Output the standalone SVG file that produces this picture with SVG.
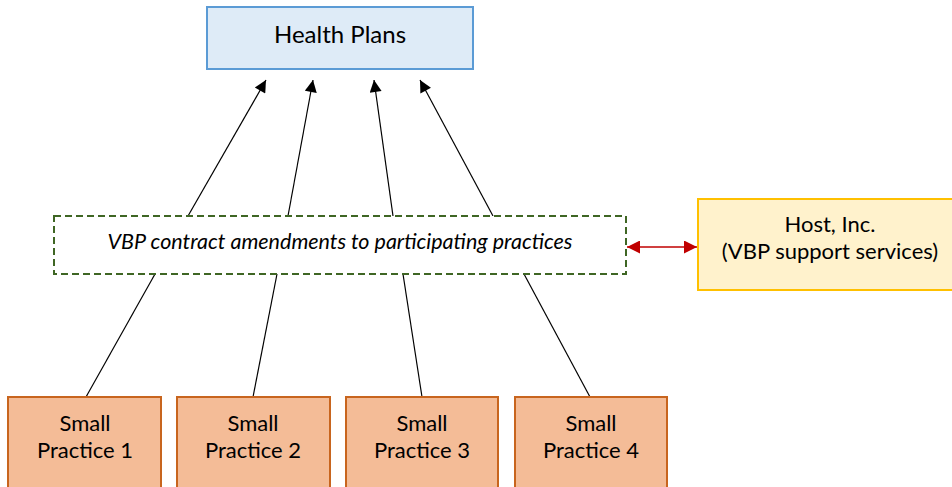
<svg xmlns="http://www.w3.org/2000/svg" width="952" height="487" viewBox="0 0 952 487">
<style>
text{font-family:"Lato","Open Sans","Liberation Sans",sans-serif;fill:#000;text-anchor:middle}
.lbl{font-size:22px}
.prac rect{fill:#F4BC97;stroke:#C8651E;stroke-width:2}
.ln{stroke:#000;stroke-width:1.2;fill:none}
</style>
<defs>
<marker id="ah" viewBox="0 0 10 10" refX="10" refY="5" markerWidth="15" markerHeight="12" markerUnits="userSpaceOnUse" orient="auto"><path d="M0,0 L10,5 L0,10 Z" fill="#000"/></marker>
<marker id="ar" viewBox="0 0 10 10" refX="10" refY="5" markerWidth="16" markerHeight="13" markerUnits="userSpaceOnUse" orient="auto-start-reverse"><path d="M0,0 L10,5 L0,10 Z" fill="#C00000"/></marker>
</defs>
<g id="connectors">
<line class="ln" x1="188" y1="216" x2="266" y2="80" marker-end="url(#ah)"/>
<line class="ln" x1="288" y1="216" x2="313" y2="80" marker-end="url(#ah)"/>
<line class="ln" x1="393" y1="216" x2="374" y2="80" marker-end="url(#ah)"/>
<line class="ln" x1="493" y1="216" x2="420" y2="80" marker-end="url(#ah)"/>
<line class="ln" x1="155" y1="274" x2="86" y2="397"/>
<line class="ln" x1="277" y1="274" x2="253" y2="397"/>
<line class="ln" x1="403" y1="274" x2="422" y2="397"/>
<line class="ln" x1="524" y1="274" x2="590" y2="397"/>
<line x1="627" y1="247" x2="697" y2="247" stroke="#C00000" stroke-width="1.5" marker-start="url(#ar)" marker-end="url(#ar)"/>
</g>
<g id="health-plans">
<rect x="207" y="7" width="266" height="62" fill="#DEEBF7" stroke="#5B9BD5" stroke-width="2"/>
<text x="340" y="43" style="font-size:24px">Health Plans</text>
</g>
<g id="vbp">
<rect x="54" y="216" width="572" height="58" fill="#fff" stroke="#3F6624" stroke-width="2" stroke-dasharray="7,4"/>
<text x="340" y="249" style="font-size:21.5px;font-style:italic">VBP contract amendments to participating practices</text>
</g>
<g id="host">
<rect x="698" y="199" width="260" height="91" fill="#FFF2CC" stroke="#FFC000" stroke-width="2"/>
<text class="lbl" x="830" y="232">Host, Inc.</text>
<text class="lbl" x="830" y="259">(VBP support services)</text>
</g>
<g id="practice1" class="prac">
<rect x="8" y="397" width="153" height="100"/>
<text class="lbl" x="85" y="431">Small</text>
<text class="lbl" x="85" y="458">Practice 1</text>
</g>
<g id="practice2" class="prac">
<rect x="177" y="397" width="153" height="100"/>
<text class="lbl" x="253" y="431">Small</text>
<text class="lbl" x="253" y="458">Practice 2</text>
</g>
<g id="practice3" class="prac">
<rect x="346" y="397" width="152" height="100"/>
<text class="lbl" x="422" y="431">Small</text>
<text class="lbl" x="422" y="458">Practice 3</text>
</g>
<g id="practice4" class="prac">
<rect x="515" y="397" width="152" height="100"/>
<text class="lbl" x="591" y="431">Small</text>
<text class="lbl" x="591" y="458">Practice 4</text>
</g>
</svg>
